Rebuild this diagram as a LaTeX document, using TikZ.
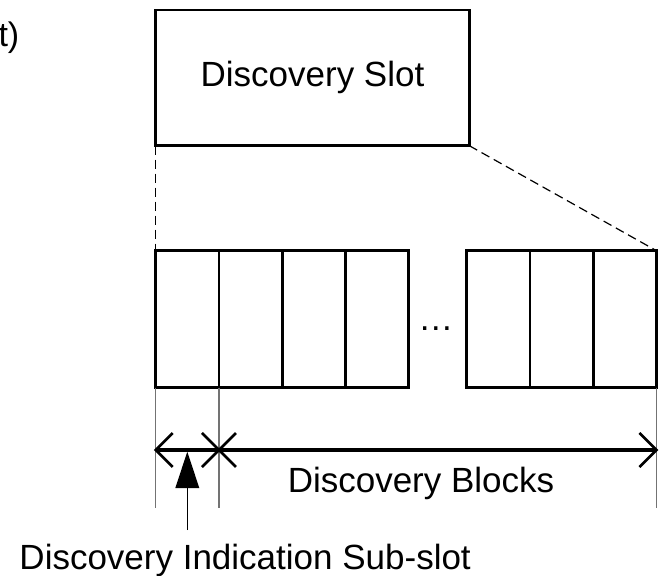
\documentclass[tikz,border=0pt]{standalone}
\usepackage{fontspec}
\setmainfont{Liberation Sans}
\usetikzlibrary{calc}
\definecolor{extgray}{RGB}{115,115,115}
\begin{document}
\begin{tikzpicture}[x=1pt,y=-1pt,
  lbl/.style={font=\fontsize{35}{42}\selectfont, inner sep=0pt, outer sep=0pt},
  slotbox/.style={draw, line width=2.8pt, minimum width=313.6pt, minimum height=135.7pt,
                  inner sep=0pt, outer sep=0pt, font=\fontsize{35}{42}\selectfont},
  blk/.style={draw, line width=2.8pt, minimum width=63.25pt, minimum height=137pt,
              inner sep=0pt, outer sep=0pt, anchor=north west},
  dashline/.style={line width=1.2pt, dash pattern=on 9pt off 5pt},
  extline/.style={line width=1.3pt, draw=extgray},
  dimline/.style={line width=3.2pt},
  barb/.style={line width=2.6pt, line join=miter, line cap=butt}
]
\useasboundingbox (0,0) rectangle (665,576);

% caption fragment at the top left
\node[font=\fontsize{34}{40}\selectfont, inner sep=0pt, anchor=base east] (tag) at (19.5,46) {t)};

% the discovery slot
\node[slotbox] (slot) at (312.5,77.85) {Discovery Slot};

% blocks of the slot, first group
\node[blk] (b1) at (155.7,250.7) {};
\node[blk] (b2) at (b1.north east) {};
\node[blk] (b3) at (b2.north east) {};
\node[blk] (b4) at (b3.north east) {};
% last group
\node[blk] (b5) at (466.7,250.7) {};
\node[blk] (b6) at (b5.north east) {};
\node[blk] (b7) at (b6.north east) {};

\node[lbl, anchor=base] (dots) at (435.8,330) {…};

% zoom lines from the slot to its blocks
\draw[dashline] (slot.south west) -- (b1.north west);
\draw[dashline] (slot.south east) -- (b7.north east);

% extension lines
\draw[extline] (b1.south west) -- ++(0,120);
\draw[extline] (b1.south east) -- ++(0,120);
\draw[extline] (b7.south east) -- ++(0,120);

% dimension arrows with open barbs at both ends
\coordinate (d0) at (155.7,450);
\coordinate (d1) at (218.95,450);
\coordinate (d2) at (656.45,450);
\draw[dimline] (d0) -- (d1);
\draw[dimline] (d1) -- (d2);
\draw[barb] ($(d0)+(17,-17)$) -- (d0) -- ($(d0)+(17,17)$);
\draw[barb] ($(d1)+(-17,-17)$) -- (d1) -- ($(d1)+(-17,17)$);
\draw[barb] ($(d1)+(17,-17)$) -- (d1) -- ($(d1)+(17,17)$);
\draw[barb] ($(d2)+(-17,-17)$) -- (d2) -- ($(d2)+(-17,17)$);

\node[lbl, anchor=base] (blocks) at (421,492) {Discovery Blocks};

% pointer to the indication sub-slot, with a solid triangular head
\coordinate (pfoot) at (187.3,530);
\coordinate (ptip) at (187.3,451.7);
\coordinate (pbase) at (187.3,488);
\draw[line width=1.3pt] (pfoot) -- (pbase);
\fill (ptip) -- ($(pbase)+(-12,0)$) -- ($(pbase)+(12,0)$) -- cycle;

\node[lbl, anchor=base west] (sub) at (19.5,569) {Discovery Indication Sub-slot};
\end{tikzpicture}
\end{document}
